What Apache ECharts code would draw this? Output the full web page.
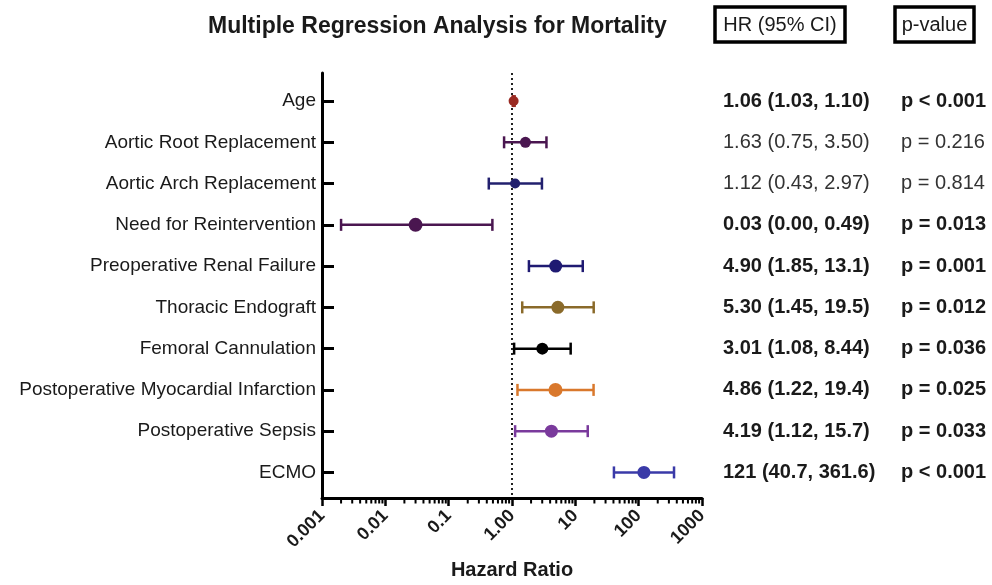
<!DOCTYPE html>
<html>
<head>
<meta charset="utf-8">
<title>Multiple Regression Analysis for Mortality</title>
<script src="https://cdn.jsdelivr.net/npm/echarts@6/dist/echarts.min.js"></script>
<style>
  html, body { margin: 0; padding: 0; background: #ffffff; }
  #chart { width: 992px; height: 585px; }
</style>
</head>
<body>
<div id="chart"></div>
<script>
// ---- data ----
const predictors = [
  'Age',
  'Aortic Root Replacement',
  'Aortic Arch Replacement',
  'Need for Reintervention',
  'Preoperative Renal Failure',
  'Thoracic Endograft',
  'Femoral Cannulation',
  'Postoperative Myocardial Infarction',
  'Postoperative Sepsis',
  'ECMO'
];
const hazardRatio = [1.06, 1.63, 1.12, 0.03, 4.90, 5.30, 3.01, 4.86, 4.19, 121];
// lower bound of reintervention is reported as 0.00 (rounded); 0.002 keeps it on the log scale
const ciLower = [1.03, 0.75, 0.43, 0.002, 1.85, 1.45, 1.08, 1.22, 1.12, 40.7];
const ciUpper = [1.10, 3.50, 2.97, 0.49, 13.1, 19.5, 8.44, 19.4, 15.7, 361.6];
const hrText = [
  '1.06 (1.03, 1.10)',
  '1.63 (0.75, 3.50)',
  '1.12 (0.43, 2.97)',
  '0.03 (0.00, 0.49)',
  '4.90 (1.85, 13.1)',
  '5.30 (1.45, 19.5)',
  '3.01 (1.08, 8.44)',
  '4.86 (1.22, 19.4)',
  '4.19 (1.12, 15.7)',
  '121 (40.7, 361.6)'
];
const pText = [
  'p < 0.001', 'p = 0.216', 'p = 0.814', 'p = 0.013', 'p = 0.001',
  'p = 0.012', 'p = 0.036', 'p = 0.025', 'p = 0.033', 'p < 0.001'
];
const significant = [true, false, false, true, true, true, true, true, true, true];
const xTickValues = [0.001, 0.01, 0.1, 1, 10, 100, 1000];
const xTickLabels = ['0.001', '0.01', '0.1', '1.00', '10', '100', '1000'];

// ---- styling ----
const rowColors = ['#9a2a22', '#4a1650', '#22206e', '#4a1650', '#1f1a72',
                   '#8a6a2a', '#000000', '#d9782c', '#7a3a9c', '#3a3aa8'];
const markerSizes = [10, 11, 10, 14, 13, 13, 12, 14, 13, 13];
const FONT = '"Liberation Sans", Arial, Helvetica, sans-serif';
const TEXT = '#1a1a1a';

const rowIdx = predictors.map((_, i) => i);
const Y_MIN = -0.68, Y_MAX = 9.62;

// minor log ticks: 2..9 within each decade
const minorTicks = [];
for (let d = 0; d < xTickValues.length - 1; d++) {
  for (let k = 2; k <= 9; k++) minorTicks.push([k * xTickValues[d], Y_MAX]);
}

function xLabel(v) {
  const e = Math.log10(v);
  const i = xTickValues.findIndex(t => Math.abs(Math.log10(t) - e) < 1e-6);
  return i >= 0 ? xTickLabels[i] : '';
}

const chart = echarts.init(document.getElementById('chart'), null, { renderer: 'canvas' });

const option = {
  animation: false,
  backgroundColor: '#ffffff',
  textStyle: { fontFamily: FONT, color: TEXT },
  title: {
    text: 'Multiple Regression Analysis for Mortality',
    left: 203,
    top: 10,
    textStyle: { fontFamily: FONT, fontSize: 23, fontWeight: 'bold', color: TEXT }
  },
  graphic: [
    { type: 'rect', shape: { x: 715, y: 7, width: 130, height: 35 },
      style: { fill: 'none', stroke: '#000', lineWidth: 3.5 } },
    { type: 'text', x: 780, y: 25,
      style: { text: 'HR (95% CI)', font: '20px ' + FONT, fill: TEXT,
               align: 'center', verticalAlign: 'middle', textAlign: 'center', textVerticalAlign: 'middle' } },
    { type: 'rect', shape: { x: 895, y: 7, width: 79, height: 35 },
      style: { fill: 'none', stroke: '#000', lineWidth: 3.5 } },
    { type: 'text', x: 934.5, y: 25,
      style: { text: 'p-value', font: '20px ' + FONT, fill: TEXT,
               align: 'center', verticalAlign: 'middle', textAlign: 'center', textVerticalAlign: 'middle' } }
  ],
  grid: { left: 322, right: 290, top: 73, bottom: 85, containLabel: false },
  xAxis: {
    type: 'log',
    logBase: 10,
    min: 0.001,
    max: 1000,
    splitNumber: 6,
    axisLine: { onZero: false, lineStyle: { color: '#000', width: 3 } },
    axisTick: { show: true, length: 8, lineStyle: { color: '#000', width: 2.5 } },
    splitLine: { show: false },
    axisLabel: {
      rotate: 45, margin: 15, fontFamily: FONT, fontSize: 18, fontWeight: 'bold', color: TEXT,
      formatter: xLabel
    },
    name: 'Hazard Ratio',
    nameLocation: 'middle',
    nameGap: 62,
    nameTextStyle: { fontFamily: FONT, fontSize: 20, fontWeight: 'bold', color: TEXT }
  },
  yAxis: [
    {
      type: 'value', inverse: true, min: Y_MIN, max: Y_MAX,
      splitLine: { show: false },
      axisLine: { show: true, onZero: false, lineStyle: { color: '#000', width: 3 } },
      axisTick: { show: true, inside: true, length: 12, customValues: rowIdx,
                  lineStyle: { color: '#000', width: 3 } },
      axisLabel: { customValues: rowIdx, margin: 6, fontFamily: FONT, fontSize: 19, color: TEXT,
                   formatter: v => predictors[Math.round(v)] }
    },
    {
      type: 'value', inverse: true, min: Y_MIN, max: Y_MAX, position: 'right', offset: 0,
      splitLine: { show: false }, axisLine: { show: false }, axisTick: { show: false },
      axisLabel: {
        customValues: rowIdx, margin: 21,
        formatter: v => { const i = Math.round(v); return (significant[i] ? '{b|' : '{n|') + hrText[i] + '}'; },
        rich: {
          b: { fontFamily: FONT, fontSize: 20, fontWeight: 'bold', color: TEXT },
          n: { fontFamily: FONT, fontSize: 20, fontWeight: 'normal', color: '#333' }
        }
      }
    },
    {
      type: 'value', inverse: true, min: Y_MIN, max: Y_MAX, position: 'right', offset: 178,
      splitLine: { show: false }, axisLine: { show: false }, axisTick: { show: false },
      axisLabel: {
        customValues: rowIdx, margin: 21,
        formatter: v => { const i = Math.round(v); return (significant[i] ? '{b|' : '{n|') + pText[i] + '}'; },
        rich: {
          b: { fontFamily: FONT, fontSize: 20, fontWeight: 'bold', color: TEXT },
          n: { fontFamily: FONT, fontSize: 20, fontWeight: 'normal', color: '#333' }
        }
      }
    }
  ],
  series: [
    {
      // minor ticks of the log axis
      type: 'custom',
      silent: true,
      clip: false,
      data: minorTicks,
      encode: { x: 0, y: 1 },
      renderItem: (params, api) => {
        const p = api.coord([api.value(0), api.value(1)]);
        return { type: 'line', shape: { x1: p[0], y1: p[1], x2: p[0], y2: p[1] + 5.5 },
                 style: { stroke: '#000', lineWidth: 2 } };
      }
    },
    {
      // confidence-interval whiskers
      type: 'custom',
      silent: true,
      clip: false,
      data: rowIdx.map(i => [ciLower[i], ciUpper[i], i]),
      encode: { x: [0, 1], y: 2 },
      renderItem: (params, api) => {
        const i = api.value(2);
        const lo = api.coord([api.value(0), i]);
        const hi = api.coord([api.value(1), i]);
        const cap = 6;
        const style = { stroke: rowColors[i], lineWidth: 2.5 };
        return {
          type: 'group',
          children: [
            { type: 'line', shape: { x1: lo[0], y1: lo[1], x2: hi[0], y2: hi[1] }, style },
            { type: 'line', shape: { x1: lo[0], y1: lo[1] - cap, x2: lo[0], y2: lo[1] + cap }, style },
            { type: 'line', shape: { x1: hi[0], y1: hi[1] - cap, x2: hi[0], y2: hi[1] + cap }, style }
          ]
        };
      }
    },
    {
      // point estimates
      type: 'scatter',
      symbol: 'circle',
      z: 5,
      itemStyle: { opacity: 1 },
      data: rowIdx.map(i => ({
        value: [hazardRatio[i], i],
        symbolSize: markerSizes[i],
        itemStyle: { color: rowColors[i], opacity: 1 }
      })),
      markLine: {
        silent: true,
        symbol: ['none', 'none'],
        label: { show: false },
        lineStyle: { type: [2, 3], color: '#222', width: 2, opacity: 1 },
        data: [{ xAxis: 1 }]
      }
    }
  ]
};

chart.setOption(option);
</script>
</body>
</html>
